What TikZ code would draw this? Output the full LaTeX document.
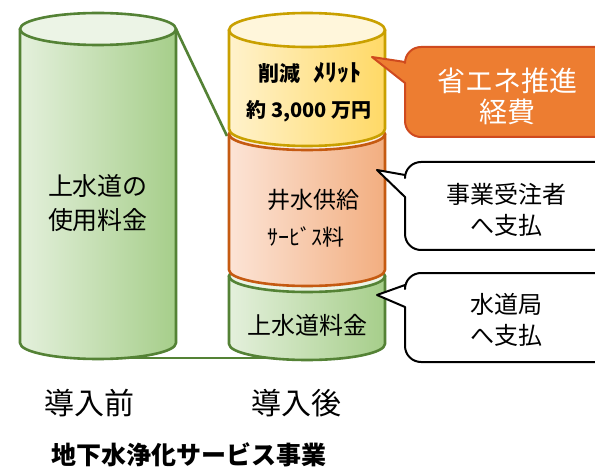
\documentclass[tikz,border=0pt]{standalone}
\usepackage{fontspec}
\setmainfont{Noto Sans CJK JP}
\definecolor{gborder}{HTML}{548235}
\definecolor{gleft}{HTML}{E4F0DC}
\definecolor{gright}{HTML}{A6CE8A}
\definecolor{yborder}{HTML}{C9A000}
\definecolor{yleft}{HTML}{FFF2CC}
\definecolor{yright}{HTML}{FFD966}
\definecolor{oborder}{HTML}{C55A11}
\definecolor{oleft}{HTML}{FCE4D6}
\definecolor{oright}{HTML}{F2AE80}
\definecolor{calloutfill}{HTML}{ED7D31}
\definecolor{calloutborder}{HTML}{CF4A1E}
\newcommand{\drawcyl}[9]{%
  \path[left color=#7,right color=#8,draw=#9,line width=2.6pt,line join=round]
    (#1,#3) -- (#1,#4) arc[start angle=180,end angle=360,x radius=#6pt,y radius=#5pt] -- (#2,#3) -- cycle;
  \path[fill=#7!70!white,draw=#9,line width=2.6pt] ({(#1+#2)/2},#3) ellipse[x radius=#6pt,y radius=#5pt];
}
\newcommand{\callout}[8]{%
  \path[#8,line width=2pt,line join=round]
    (405,#4) [rounded corners=16pt] -- (405,#2) -- (640,#2) -- (640,#3) -- (405,#3) [sharp corners] -- (405,#5) -- (#6,#7) -- cycle;
}
\tikzset{
  conn/.style={draw=gborder,line width=2.6pt},
  bigtxt/.style={font=\fontsize{25}{30}\selectfont,align=center},
}
\begin{document}
\begin{tikzpicture}[x=1pt,y=-1pt]
\useasboundingbox (0,0) rectangle (595,468);
\clip (0,0) rectangle (595,468);
\fill[white] (0,0) rectangle (595,468);
% connectors behind
\coordinate (lbot) at (98,358);
\coordinate (rbot) at (307,358);
\coordinate (ltop) at (176,29);
\coordinate (rtop) at (227,136);
\draw[conn] (lbot) -- (rbot);
% left cylinder
\drawcyl{20}{176}{29}{343}{16}{78}{gleft}{gright}{gborder}
\draw[conn] (ltop) -- (rtop);
% right stack
\drawcyl{229}{385}{276}{344}{16}{78}{gleft}{gright}{gborder}
\drawcyl{229}{385}{134}{270}{16}{78}{oleft}{oright}{oborder}
\drawcyl{229}{385}{30}{129}{17}{78}{yleft}{yright}{yborder}
% callouts
\callout{o}{47}{137}{62}{83}{372}{57}{fill=calloutfill,draw=calloutborder}
\callout{w1}{162}{250}{175}{197}{377}{170}{fill=white,draw=black}
\callout{w2}{273}{362}{285}{307}{377}{295}{fill=white,draw=black}
% texts
\node[bigtxt] (t1) at (98,203) {上水道の\\[4pt]使用料金};
\node[font=\fontsize{21}{26}\selectfont\bfseries] (t2) at (310,73) {削減\hspace{0.6em}\fontsize{24}{26}\selectfont ﾒﾘｯﾄ};
\node[font=\fontsize{20}{26}\selectfont\bfseries] (t3) at (309,111) {約 3,000 万円};
\node[font=\fontsize{23}{28}\selectfont] (t4) at (313,200) {井水供給};
\node[font=\fontsize{22}{28}\selectfont] (t5) at (306,237) {ｻｰﾋﾞｽ料};
\node[font=\fontsize{24}{28}\selectfont] (t6) at (307,325) {上水道料金};
\node[font=\fontsize{28}{33}\selectfont,text=white,align=center] (t7) at (507,96) {省エネ推進\\[-2pt]経費};
\node[font=\fontsize{24}{29}\selectfont,align=center] (t8) at (506,210) {事業受注者\\[2pt]へ支払};
\node[font=\fontsize{24}{29}\selectfont,align=center] (t9) at (506,320) {水道局\\[2pt]へ支払};
\node[font=\fontsize{30}{34}\selectfont] (t10) at (90,403) {導入前};
\node[font=\fontsize{30}{34}\selectfont] (t11) at (296,403) {導入後};
\node[font=\fontsize{25}{30}\selectfont\bfseries] (t12) at (189,455) {地下水浄化サービス事業};
\end{tikzpicture}
\end{document}
